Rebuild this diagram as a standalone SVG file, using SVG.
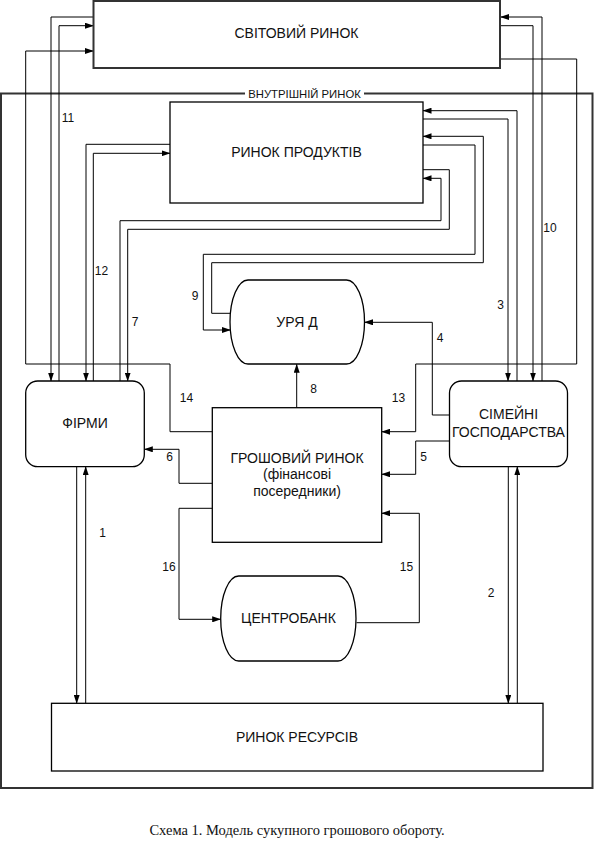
<svg xmlns="http://www.w3.org/2000/svg" width="595" height="841" viewBox="0 0 595 841">
<defs>
<marker id="ah" markerWidth="9" markerHeight="6" refX="8.5" refY="3" orient="auto" markerUnits="userSpaceOnUse">
<path d="M0,0 L9,3 L0,6 Z" fill="#000"/>
</marker>
<style>
.box{fill:#fff;stroke:#000;stroke-width:1.3}
.heavy{fill:#fff;stroke:#333;stroke-width:2}
.frame{fill:none;stroke:#333;stroke-width:2}
.lbl{font-family:"Liberation Sans",Arial,sans-serif;font-size:14px;fill:#111;text-anchor:middle}
.num{font-family:"Liberation Sans",Arial,sans-serif;font-size:12px;fill:#111;text-anchor:middle}
.cap{font-family:"Liberation Serif","Times New Roman",serif;font-size:14.5px;fill:#111;text-anchor:middle}
#connectors polyline{fill:none;stroke:#000;stroke-width:1}
.arr{marker-end:url(#ah)}
</style>
</defs>
<rect width="595" height="841" fill="#fff"/>

<g id="internal-market">
<rect class="frame" x="1" y="93.5" width="591.5" height="694.5"/>
<rect x="245" y="88" width="119" height="11" fill="#fff"/>
<text class="lbl" style="font-size:11.3px" x="304.5" y="97.5">ВНУТРІШНІЙ РИНОК</text>
</g>

<g id="connectors">
<!-- world market left -->
<polyline class="arr" points="93.5,17 51,17 51,381"/>
<polyline class="arr" points="59,381 59,25.7 93.5,25.7"/>
<polyline class="arr" points="212.3,431.7 170,431.7 170,364 25.7,364 25.7,51 93.5,51"/>
<!-- world market right -->
<polyline class="arr" points="542,381 542,17 500.5,17"/>
<polyline class="arr" points="500,25.7 533,25.7 533,381"/>
<polyline class="arr" points="500,59 576.7,59 576.7,364 415.7,364 415.7,431.7 381.7,431.7"/>
<!-- product market right -->
<polyline class="arr" points="517,381 517,110.7 423,110.7"/>
<polyline class="arr" points="423,119 508,119 508,381"/>
<polyline class="arr" points="230.5,313.3 211.7,313.3 211.7,262.7 483.3,262.7 483.3,136.3 423,136.3"/>
<polyline class="arr" points="423,145 475,145 475,254.3 203.3,254.3 203.3,330 230.5,330"/>
<polyline class="arr" points="120,381 120,220.7 441,220.7 441,178.3 423,178.3"/>
<polyline class="arr" points="423,169.7 449.3,169.7 449.3,229.3 127.7,229.3 127.7,381"/>
<!-- product market left -->
<polyline class="arr" points="170,144.3 86,144.3 86,381"/>
<polyline class="arr" points="93.3,381 93.3,153.3 170,153.3"/>
<!-- households / money -->
<polyline class="arr" points="449.5,415 432.3,415 432.3,322.3 364.5,322.3"/>
<polyline class="arr" points="449.5,441 415.7,441 415.7,474.3 381.7,474.3"/>
<polyline class="arr" points="212.3,483.3 179,483.3 179,449.3 144.3,449.3"/>
<polyline class="arr" points="296.7,407.7 296.7,364.3"/>
<polyline class="arr" points="212.3,508.3 179,508.3 179,619.3 220.7,619.3"/>
<polyline class="arr" points="356.5,622.7 419.3,622.7 419.3,513.3 381.7,513.3"/>
<!-- resources -->
<polyline class="arr" points="76.7,466.7 76.7,703.3"/>
<polyline class="arr" points="85.7,703.3 85.7,466.7"/>
<polyline class="arr" points="508.3,466.7 508.3,703.3"/>
<polyline class="arr" points="517.3,703.3 517.3,466.7"/>
</g>

<g id="world-market">
<rect class="heavy" x="93.5" y="1" width="406.5" height="67"/>
<text class="lbl" x="296.5" y="38">СВІТОВИЙ РИНОК</text>
</g>

<g id="product-market">
<rect class="box" x="170" y="102" width="253" height="101"/>
<text class="lbl" x="296.5" y="157">РИНОК ПРОДУКТІВ</text>
</g>

<g id="government">
<path class="box" d="M248,280 H346.5 A18,42 0 0 1 346.5,364 H248 A18,42 0 0 1 248,280 Z"/>
<text class="lbl" x="297" y="327">УРЯ Д</text>
</g>

<g id="firms">
<rect class="box" x="25.7" y="381" width="118.6" height="85.7" rx="12"/>
<text class="lbl" x="85" y="428">ФІРМИ</text>
</g>

<g id="households">
<rect class="box" x="449.5" y="381" width="118" height="85.7" rx="12"/>
<text class="lbl" x="508.5" y="419">СІМЕЙНІ</text>
<text class="lbl" x="508.5" y="437">ГОСПОДАРСТВА</text>
</g>

<g id="money-market">
<rect class="box" x="212.3" y="407.7" width="169.4" height="134.6"/>
<text class="lbl" x="297" y="462.5">ГРОШОВИЙ РИНОК</text>
<text class="lbl" x="297" y="479">(фінансові</text>
<text class="lbl" x="297" y="495.5">посередники)</text>
</g>

<g id="central-bank">
<path class="box" d="M238.7,576 H338 A18,42.5 0 0 1 338,661 H238.7 A18,42.5 0 0 1 238.7,576 Z"/>
<text class="lbl" x="288.5" y="623">ЦЕНТРОБАНК</text>
</g>

<g id="resource-market">
<rect class="box" x="51.5" y="703.3" width="491.5" height="67.7"/>
<text class="lbl" x="297" y="742">РИНОК РЕСУРСІВ</text>
</g>

<g id="labels">
<text class="num" x="68" y="122.3">11</text>
<text class="num" x="101.5" y="274.8">12</text>
<text class="num" x="135" y="326.3">7</text>
<text class="num" x="195" y="300.3">9</text>
<text class="num" x="550" y="232.3">10</text>
<text class="num" x="500.5" y="308.8">3</text>
<text class="num" x="440" y="342.3">4</text>
<text class="num" x="186.5" y="402.3">14</text>
<text class="num" x="169.5" y="461.3">6</text>
<text class="num" x="102.5" y="536.8">1</text>
<text class="num" x="313.5" y="392.8">8</text>
<text class="num" x="398.5" y="402.3">13</text>
<text class="num" x="423.5" y="461.3">5</text>
<text class="num" x="169" y="570.8">16</text>
<text class="num" x="406.5" y="570.8">15</text>
<text class="num" x="491" y="596.8">2</text>
</g>

<text class="cap" x="297" y="835">Схема 1. Модель сукупного грошового обороту.</text>
</svg>
